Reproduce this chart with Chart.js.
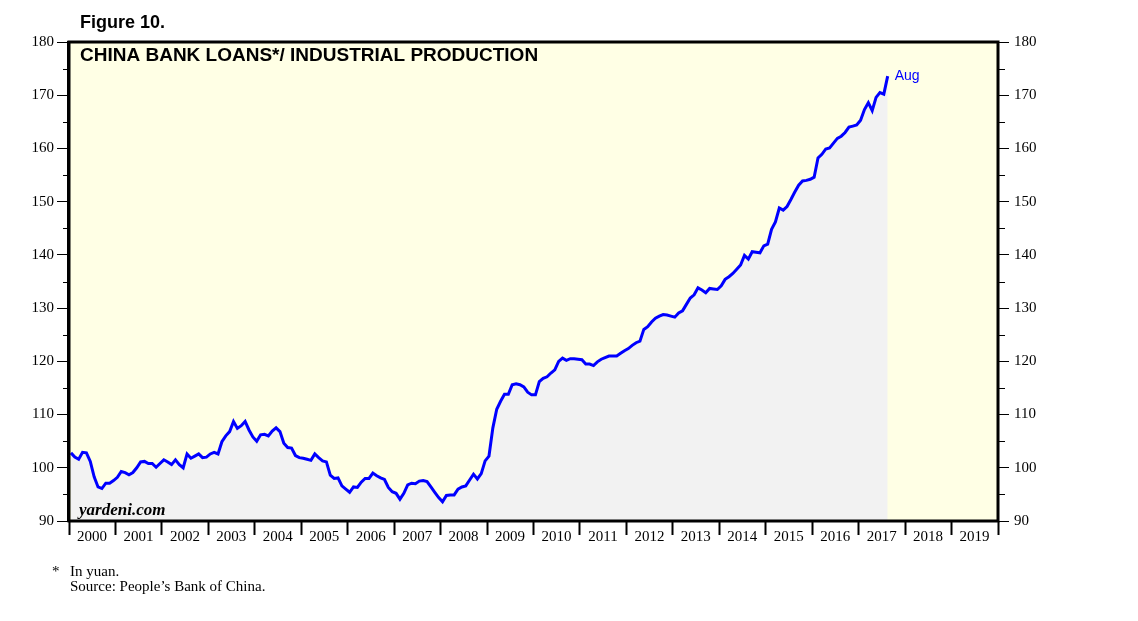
<!DOCTYPE html>
<html>
<head>
<meta charset="utf-8">
<script src="https://cdn.jsdelivr.net/npm/chart.js@4/dist/chart.umd.min.js"></script>
<style>
  body { margin: 0; background: #fff; }
  #wrap { position: relative; width: 1138px; height: 621px; }
  .txt { position: absolute; color: #000; white-space: nowrap; }
  #fig { left: 80px; top: 12px; font: bold 18px "Liberation Sans", Arial, sans-serif; }
  .note { font: 15px "Liberation Serif", "Times New Roman", serif; }
</style>
</head>
<body>
<div id="wrap">
  <canvas id="chart"></canvas>
  <div class="txt" id="fig">Figure 10.</div>
  <div class="txt note" style="left:52px; top:563px;">*</div>
  <div class="txt note" style="left:70px; top:563px;">In yuan.</div>
  <div class="txt note" style="left:70px; top:578px;">Source: People’s Bank of China.</div>
</div>
<script>
// monthly ratio, Jan 2000 .. Aug 2017
const firstYear = 2000;
const ratio = [
    102.8, 102.0, 101.6, 102.9, 102.8, 101.2, 98.3, 96.4, 96.1, 97.1, 97.1, 97.6,      // 2000
    98.2, 99.3, 99.1, 98.7, 99.1, 100.0, 101.1, 101.2, 100.8, 100.8, 100.1, 100.8,     // 2001
    101.5, 101.1, 100.6, 101.5, 100.6, 100.0, 102.6, 101.8, 102.2, 102.6, 101.9, 102.0, // 2002
    102.6, 102.9, 102.6, 104.9, 106.0, 106.8, 108.7, 107.4, 107.9, 108.7, 107.1, 105.8, // 2003
    105.0, 106.2, 106.3, 106.0, 106.9, 107.5, 106.8, 104.6, 103.8, 103.7, 102.3, 101.9, // 2004
    101.8, 101.6, 101.4, 102.6, 101.9, 101.3, 101.1, 98.6, 98.0, 98.1, 96.6, 96.0,     // 2005
    95.4, 96.4, 96.3, 97.3, 98.0, 98.0, 99.0, 98.5, 98.1, 97.8, 96.3, 95.5,            // 2006
    95.2, 94.1, 95.2, 96.8, 97.1, 97.0, 97.5, 97.6, 97.4, 96.4, 95.4, 94.4,            // 2007
    93.6, 94.8, 94.9, 94.9, 96.0, 96.4, 96.6, 97.7, 98.8, 97.9, 98.9, 101.3,           // 2008
    102.2, 107.5, 111.0, 112.5, 113.8, 113.8, 115.6, 115.8, 115.6, 115.2, 114.2, 113.7, // 2009
    113.7, 116.2, 116.8, 117.1, 117.8, 118.4, 120.0, 120.6, 120.2, 120.5, 120.5, 120.4, // 2010
    120.3, 119.5, 119.5, 119.2, 119.9, 120.4, 120.7, 121.0, 121.0, 121.0, 121.5, 122.0, // 2011
    122.4, 123.0, 123.5, 123.8, 126.0, 126.5, 127.4, 128.1, 128.5, 128.8, 128.7, 128.5, // 2012
    128.3, 129.1, 129.5, 130.7, 131.9, 132.5, 133.8, 133.4, 132.9, 133.7, 133.6, 133.5, // 2013
    134.2, 135.4, 135.9, 136.5, 137.3, 138.1, 139.9, 139.2, 140.6, 140.5, 140.4, 141.7, // 2014
    142.0, 144.8, 146.2, 148.8, 148.4, 149.1, 150.4, 151.8, 153.1, 153.9, 154.0, 154.2, // 2015
    154.6, 158.2, 158.9, 159.9, 160.1, 161.0, 161.9, 162.3, 163.0, 164.0, 164.2, 164.4, // 2016
    165.3, 167.3, 168.6, 167.1, 169.6, 170.5, 170.2, 173.6                              // 2017
];
const lastLabel = "Aug";
const yearLabels = ["2000", "2001", "2002", "2003", "2004", "2005", "2006", "2007", "2008", "2009",
                    "2010", "2011", "2012", "2013", "2014", "2015", "2016", "2017", "2018", "2019"];
const yMin = 90, yMax = 180, yStep = 10;

const points = ratio.map((v, i) => ({ x: firstYear + (i + 0.5) / 12, y: v }));

const serif = '"Liberation Serif", "Times New Roman", serif';
const sans = '"Liberation Sans", Arial, sans-serif';

// yellow panel, frame, minor ticks and inside labels
const decor = {
    id: 'decor',
    beforeDraw(chart) {
        const { ctx, chartArea: a } = chart;
        ctx.save();
        ctx.fillStyle = '#ffffe5';
        ctx.fillRect(a.left, a.top, a.right - a.left, a.bottom - a.top);
        ctx.restore();
    },
    afterDatasetsDraw(chart) {
        const { ctx, chartArea: a } = chart;
        const y = chart.scales.y;
        ctx.save();
        // minor ticks every 5
        ctx.strokeStyle = '#000';
        ctx.lineWidth = 1;
        for (let v = yMin + yStep / 2; v < yMax; v += yStep) {
            const py = Math.round(y.getPixelForValue(v)) + 0.5;
            ctx.beginPath();
            ctx.moveTo(a.left - 6, py); ctx.lineTo(a.left, py);
            ctx.moveTo(a.right, py); ctx.lineTo(a.right + 7, py);
            ctx.stroke();
        }
        // frame
        ctx.lineWidth = 3;
        ctx.strokeRect(a.left, a.top, a.right - a.left, a.bottom - a.top);
        ctx.fillRect(a.left - 2, a.top - 1, 2, a.bottom - a.top + 2);

        ctx.fillStyle = '#000';
        ctx.textBaseline = 'middle';
        ctx.font = 'bold 19px ' + sans;
        ctx.fillText('CHINA BANK LOANS*/ INDUSTRIAL PRODUCTION', a.left + 11, a.top + 14);
        ctx.font = 'italic bold 17px ' + serif;
        ctx.fillText('yardeni.com', a.left + 10, a.bottom - 10);

        // label at the last point
        const meta = chart.getDatasetMeta(0);
        const last = meta.data[meta.data.length - 1];
        ctx.fillStyle = '#0000ff';
        ctx.font = '14px ' + sans;
        ctx.fillText(lastLabel, last.x + 7, last.y);
        ctx.restore();
    }
};

new Chart(document.getElementById('chart'), {
    type: 'line',
    data: {
        datasets: [{
            data: points,
            borderColor: '#0000ff',
            borderWidth: 3,
            backgroundColor: '#f2f2f2',
            fill: 'start',
            pointRadius: 0,
            tension: 0
        }]
    },
    options: {
        responsive: true,
        maintainAspectRatio: false,
        animation: false,
        layout: { padding: { left: 0, right: 100, top: 42, bottom: 60 } },
        plugins: { legend: { display: false }, tooltip: { enabled: false } },
        scales: {
            x: {
                type: 'linear',
                min: 2000,
                max: 2020,
                afterFit: s => { s.height = 40; },
                afterBuildTicks: s => { s.ticks = yearLabels.concat(['2020']).map(l => ({ value: +l })); },
                border: { display: false },
                grid: { drawOnChartArea: false, tickLength: 14, tickWidth: 2, tickColor: '#000' },
                ticks: {
                    autoSkip: false,
                    maxRotation: 0,
                    labelOffset: 23,
                    padding: -7,
                    color: '#000',
                    font: { family: serif, size: 15 },
                    callback: (v, i) => yearLabels[i] || ''
                }
            },
            y: {
                position: 'left',
                min: yMin,
                max: yMax,
                afterFit: s => { s.width = 69; },
                border: { display: false },
                grid: { drawOnChartArea: false, tickLength: 12, tickColor: '#000' },
                ticks: { stepSize: yStep, padding: 3, color: '#000', font: { family: serif, size: 15 } }
            },
            y2: {
                position: 'right',
                min: yMin,
                max: yMax,
                afterFit: s => { s.width = 40; },
                border: { display: false },
                grid: { drawOnChartArea: false, tickLength: 11, tickColor: '#000' },
                ticks: { stepSize: yStep, padding: 5, color: '#000', font: { family: serif, size: 15 } }
            }
        }
    },
    plugins: [decor]
});
</script>
</body>
</html>
